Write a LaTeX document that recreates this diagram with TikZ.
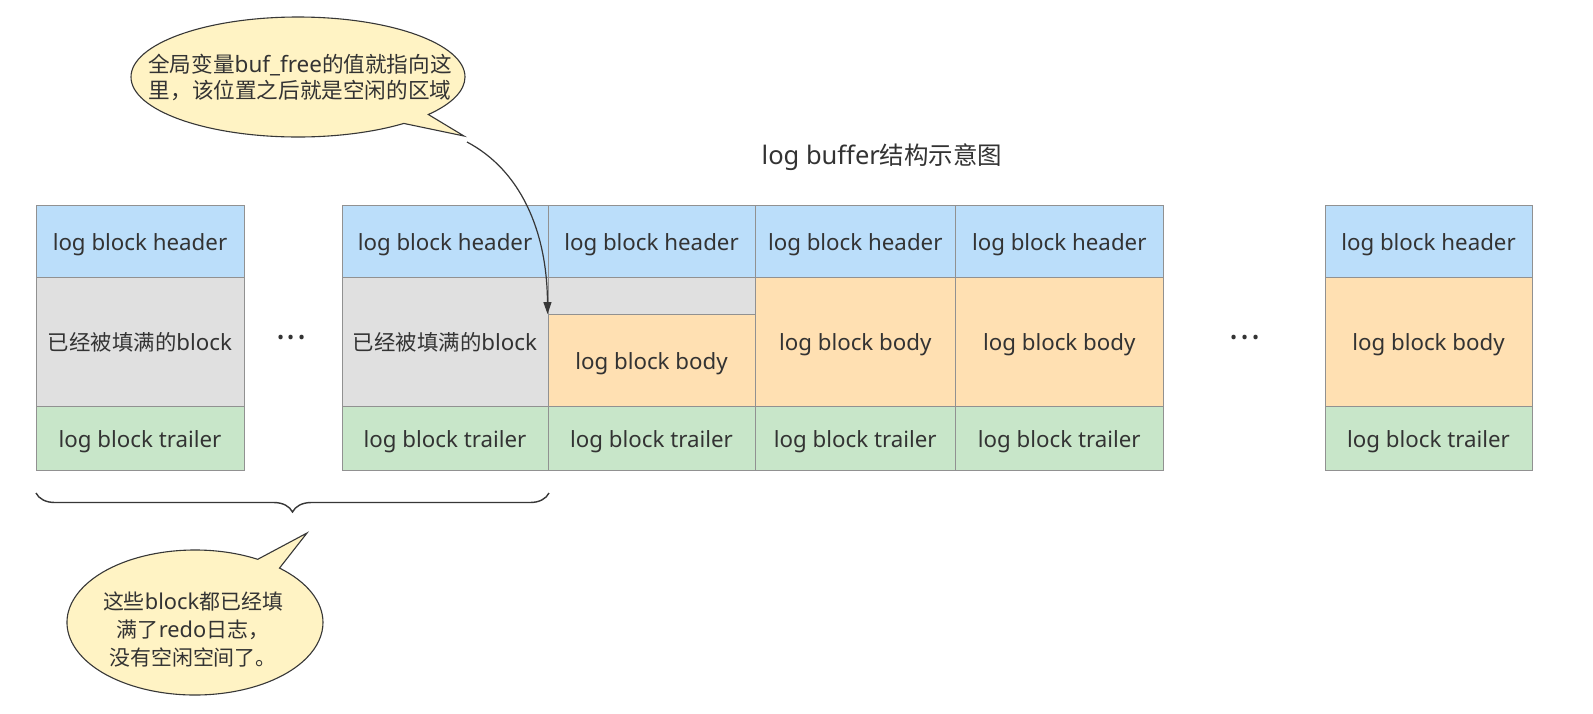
\documentclass[tikz,border=0pt]{standalone}
\usepackage{fontspec}
\setmainfont{Noto Sans}
\newfontfamily\cjk[Scale=0.96]{Noto Sans CJK SC}
\usetikzlibrary{shapes.callouts,decorations.pathreplacing,arrows.meta}
\definecolor{hdrblue}{RGB}{187,222,250}
\definecolor{filledgray}{RGB}{224,224,224}
\definecolor{bodyorange}{RGB}{255,224,178}
\definecolor{trlgreen}{RGB}{200,230,201}
\definecolor{bordergray}{RGB}{145,145,145}
\definecolor{txtgray}{RGB}{51,51,51}
\definecolor{calloutfill}{RGB}{255,243,196}
\definecolor{calloutline}{RGB}{55,55,55}
\begin{document}
\begin{tikzpicture}[x=1pt,y=-1pt,
  cell/.style={draw=bordergray, line width=0.9pt, inner sep=0pt, text=txtgray,
    text height=18pt, text depth=0pt, font=\fontsize{22.3}{26}\selectfont},
  hdrcell/.style={cell, fill=hdrblue, minimum height=71.5pt},
  trlcell/.style={cell, fill=trlgreen, minimum height=64.5pt},
  fullcell/.style={cell, fill=filledgray, minimum height=129pt},
  bodycell/.style={cell, fill=bodyorange, minimum height=129pt},
  bubble/.style={ellipse callout, draw=calloutline, line width=1.1pt, fill=calloutfill,
    inner sep=0pt, callout pointer arc=12},
  bubbletext/.style={align=center, text=txtgray, inner sep=0pt},
  dotstext/.style={text=txtgray, inner sep=0pt, font=\fontsize{34}{34}\selectfont},
  pointer/.style={draw=calloutline, line width=1.2pt, -{Triangle[length=12pt,width=8pt]}},
  bracestyle/.style={draw=calloutline, line width=1.4pt, decorate,
    decoration={brace, mirror, amplitude=19pt}}
]
\useasboundingbox (0,0) rectangle (1593,713);
\fill[white] (0,0) rectangle (1593,713);

% title
\node[text=txtgray, font=\fontsize{25.5}{30}\selectfont] (title) at (882,157) {log buffer{\cjk 结构示意图}};

% headers and trailers
\foreach \n/\xc/\w in {1/140/208, 2/445/206, 3/651.5/207, 4/855.25/200.5, 5/1059.25/207.5, 6/1428.5/207} {
  \node[hdrcell, minimum width=\w pt] (h\n) at (\xc,241.25) {log block header};
  \node[trlcell, minimum width=\w pt] (t\n) at (\xc,438.25) {log block trailer};
}

% bodies
\node[fullcell, minimum width=208pt] (b1) at (140,341.5) {{\cjk 已经被填满的}block};
\node[fullcell, minimum width=206pt] (b2) at (445,341.5) {{\cjk 已经被填满的}block};
\node[cell, fill=filledgray, minimum width=207pt, minimum height=37.5pt] (g3) at (651.5,295.75) {};
\node[cell, fill=bodyorange, minimum width=207pt, minimum height=91.5pt] (o3) at (651.5,360.25) {log block body};
\node[bodycell, minimum width=200.5pt] (b4) at (855.25,341.5) {log block body};
\node[bodycell, minimum width=207.5pt] (b5) at (1059.25,341.5) {log block body};
\node[bodycell, minimum width=207pt] (b6) at (1428.5,341.5) {log block body};

% ellipses between blocks
\node[dotstext] (dots1) at (291.5,342.3) {·\kern1.8pt·\kern1.8pt·};
\node[dotstext] (dots2) at (1245,342.3) {·\kern1.8pt·\kern1.8pt·};

% callout 1
\node[bubble, minimum width=334pt, minimum height=120pt, callout absolute pointer={(464,136)}] (c1) at (298,77) {};
\node[bubbletext, font=\fontsize{22.5}{25.5}\selectfont] (c1t) at (300,77.5)
  {{\cjk 全局变量}buf\_free{\cjk 的值就指向这}\\{\cjk 里，该位置之后就是空闲的区域}};

% arrow to buf_free position
\coordinate (free) at (467,142);
\draw[pointer] (free) .. controls (520,170) and (547,230) .. (o3.north west);

% brace
\coordinate (braceL) at (36,493);
\coordinate (braceR) at (549,493);
\draw[bracestyle] (braceL) -- (braceR);

% callout 2
\node[bubble, minimum width=256pt, minimum height=145pt, callout absolute pointer={(307,533)}] (c2) at (195,622.5) {};
\node[bubbletext, font=\fontsize{21.8}{28}\selectfont] (c2t) at (193,629.5)
  {{\cjk 这些}block{\cjk 都已经填}\\{\cjk 满了}redo{\cjk 日志，}\\{\cjk 没有空闲空间了。}};
\end{tikzpicture}
\end{document}
